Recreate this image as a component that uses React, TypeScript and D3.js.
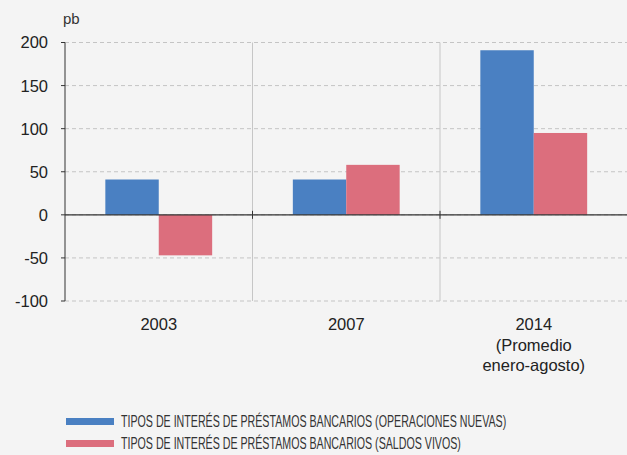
import React from 'react';
import { scaleBand, scaleLinear } from 'd3';

const categories = ['2003', '2007', '2014'];
const categoryLines = [['2003'], ['2007'], ['2014', '(Promedio', 'enero-agosto)']];
const seriesNames = [
  'TIPOS DE INTERÉS DE PRÉSTAMOS BANCARIOS (OPERACIONES NUEVAS)',
  'TIPOS DE INTERÉS DE PRÉSTAMOS BANCARIOS (SALDOS VIVOS)',
];
const nuevas = [41, 41, 191];
const saldos = [-47, 58, 95];
const yTicks = [200, 150, 100, 50, 0, -50, -100];

const W = 627;
const H = 455;
const colors = ['#4a80c2', '#dc6e7d'];
const font = '"Liberation Sans", Arial, Helvetica, sans-serif';
const condense = 0.666; // legend type is a condensed face

export default function App() {
  const x = scaleBand<string>().domain(categories).range([65, 627.5]);
  const y = scaleLinear().domain([-100, 200]).range([301, 42.5]);
  const inner = scaleBand<number>().domain([0, 1]).range([0, x.bandwidth()]).paddingOuter(0.755).paddingInner(0);
  const series = [nuevas, saldos];

  return (
    <svg width={W} height={H} style={{ position: 'absolute', left: 0, top: 0, background: '#f4f4f4' }}>
      <rect x={0} y={0} width={W} height={H} fill="#f4f4f4" />
      <text x={63} y={24} fontFamily={font} fontSize={15} fill="#333">pb</text>

      {/* gridlines */}
      {yTicks.map(t => (
        <line key={t} x1={65} x2={W} y1={y(t)} y2={y(t)} stroke="#c4c4c4" strokeWidth={1} strokeDasharray="4 3" />
      ))}

      {/* category separators */}
      {categories.slice(1).map(c => (
        <g key={c}>
          <line x1={x(c)!} x2={x(c)!} y1={y(200)} y2={y(-100)} stroke="#c6c6c6" strokeWidth={1} />
          <line x1={x(c)!} x2={x(c)!} y1={y(0) - 4} y2={y(0) + 4} stroke="#333" strokeWidth={1} />
        </g>
      ))}

      {/* bars */}
      {categories.map((c, i) =>
        series.map((s, k) => {
          const v = s[i];
          const bx = x(c)! + inner(k)!;
          return (
            <rect
              key={c + k}
              x={bx}
              y={y(Math.max(0, v))}
              width={inner.bandwidth()}
              height={Math.abs(y(v) - y(0))}
              fill={colors[k]}
            />
          );
        })
      )}

      {/* zero line */}
      <line x1={65} x2={W} y1={y(0)} y2={y(0)} stroke="#333" strokeWidth={1.2} />

      {/* left axis */}
      <line x1={65} x2={65} y1={y(200)} y2={y(-100)} stroke="#333" strokeWidth={1} />
      {yTicks.map(t => (
        <g key={'t' + t}>
          <line x1={61} x2={65} y1={y(t)} y2={y(t)} stroke="#333" strokeWidth={1} />
          <text x={48} y={y(t)} dy="0.36em" textAnchor="end" fontFamily={font} fontSize={16.5} fill="#222">
            {t}
          </text>
        </g>
      ))}

      {/* category labels */}
      {categories.map((c, i) => (
        <text key={'c' + c} textAnchor="middle" fontFamily={font} fontSize={16.5} fill="#222">
          {categoryLines[i].map((l, j) => (
            <tspan key={j} x={x(c)! + x.bandwidth() / 2} y={330 + j * 20.7}>{l}</tspan>
          ))}
        </text>
      ))}

      {/* legend */}
      {seriesNames.map((n, k) => (
        <g key={n}>
          <rect x={66} y={418 + k * 22} width={48} height={7} fill={colors[k]} />
          <g transform={`translate(121, ${421.5 + k * 22}) scale(${condense}, 1)`}>
            <text x={0} y={0} dy="0.36em" fontFamily={font} fontSize={16} fill="#333">
              {n}
            </text>
          </g>
        </g>
      ))}
    </svg>
  );
}
